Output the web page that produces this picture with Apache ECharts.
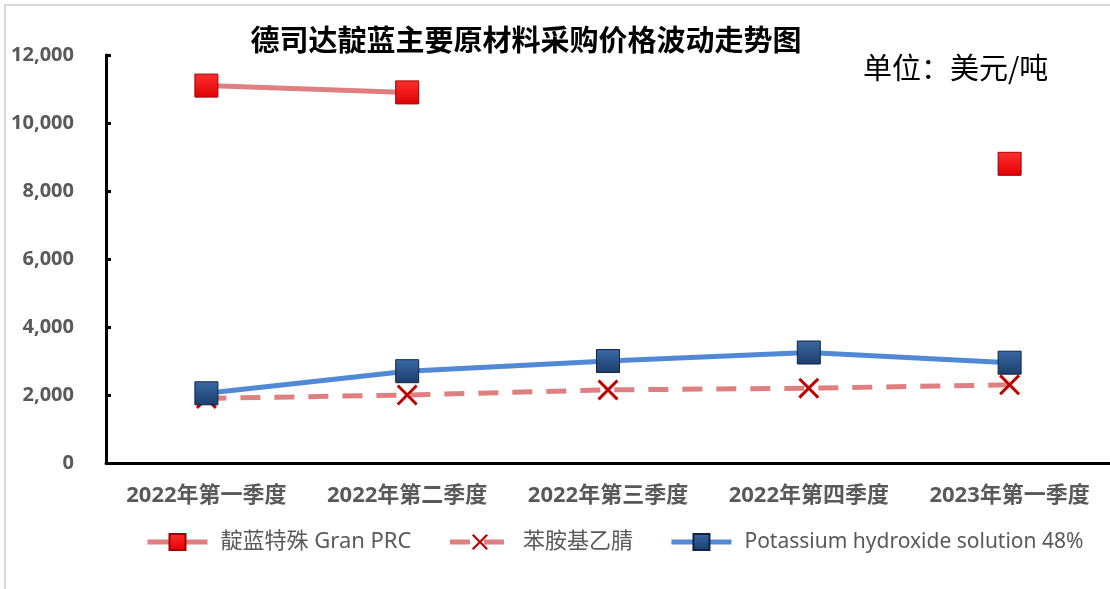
<!DOCTYPE html>
<html>
<head>
<meta charset="utf-8">
<script src="https://cdn.jsdelivr.net/npm/echarts@6/dist/echarts.min.js"></script>
<style>
html, body { margin: 0; padding: 0; background: #fff; }
#main { width: 1110px; height: 589px; }
</style>
</head>
<body>
<div id="main"></div>
<script>
var quarters = ['2022年第一季度', '2022年第二季度', '2022年第三季度', '2022年第四季度', '2023年第一季度'];
var granPrc = [11100, 10900, null, null, 8800];
var anilino = [1900, 2000, 2150, 2200, 2300];
var potassium = [2050, 2700, 3000, 3250, 2950];
var seriesNames = ['靛蓝特殊 Gran PRC', '苯胺基乙腈', 'Potassium hydroxide solution 48%'];

var xMark = 'path://M0,2 L2,0 L10,8 L18,0 L20,2 L12,10 L20,18 L18,20 L10,12 L2,20 L0,18 L8,10 Z';
var font = "'Noto Sans', 'Noto Sans CJK SC', sans-serif";

var myChart = echarts.init(document.getElementById('main'));
var option = {
    backgroundColor: '#fff',
    animation: false,
    textStyle: { fontFamily: font },
    title: [
        {
            text: '德司达靛蓝主要原材料采购价格波动走势图',
            left: 521, top: 20, textAlign: 'center',
            textStyle: { fontSize: 29, fontWeight: 'bold', color: '#000', fontFamily: "'Noto Sans CJK SC', sans-serif" }
        },
        {
            text: '单位：美元/吨',
            left: 858, top: 48,
            textStyle: { fontSize: 29, fontWeight: 'normal', color: '#000', fontFamily: "'Noto Sans CJK SC', sans-serif" }
        }
    ],
    graphic: [
        { type: 'rect', shape: { x: 5, y: 4, width: 1105, height: 2 }, style: { fill: '#d9d9d9' } },
        { type: 'rect', shape: { x: 4, y: 4, width: 2, height: 585 }, style: { fill: '#d9d9d9' } }
    ],
    legend: {
        left: 140, top: 526,
        itemWidth: 60, itemHeight: 20, itemGap: 36,
        lineStyle: { width: 5 },
        textStyle: { fontSize: 22, color: '#595959', fontFamily: font, padding: [0, 0, 0, 8] },
        data: [
            seriesNames[0],
            seriesNames[1],
            { name: seriesNames[2], textStyle: { fontSize: 21 } }
        ]
    },
    grid: { left: 106, top: 55, width: 1008, height: 408, containLabel: false },
    xAxis: {
        type: 'category',
        data: quarters,
        axisLine: { lineStyle: { color: '#000', width: 3 } },
        axisTick: { show: false },
        axisLabel: { interval: 0, margin: 22, fontSize: 22, fontWeight: 'bold', color: '#595959' }
    },
    yAxis: {
        type: 'value',
        min: 0, max: 12000, interval: 2000,
        splitLine: { show: false },
        axisLine: { show: true, lineStyle: { color: '#000', width: 3 } },
        axisTick: { show: true, inside: true, length: 5, lineStyle: { color: '#000', width: 3 } },
        axisLabel: {
            margin: 32, fontSize: 20, fontWeight: 'bold', color: '#595959',
            formatter: function (v) { return v.toLocaleString('en-US'); }
        }
    },
    series: [
        {
            name: seriesNames[0],
            type: 'line',
            data: granPrc,
            connectNulls: false,
            symbol: 'rect', symbolSize: 23,
            lineStyle: { color: '#e07f7f', width: 5 },
            itemStyle: {
                color: new echarts.graphic.LinearGradient(0, 0, 0, 1, [
                    { offset: 0, color: '#ff3030' }, { offset: 1, color: '#e00000' }
                ]),
                borderColor: '#a00000', borderWidth: 1
            }
        },
        {
            name: seriesNames[1],
            type: 'line',
            data: anilino,
            symbol: xMark, symbolSize: 21,
            lineStyle: { color: '#e07f7f', width: 5, type: [20, 14] },
            itemStyle: { color: '#c00000' }
        },
        {
            name: seriesNames[2],
            type: 'line',
            data: potassium,
            symbol: 'rect', symbolSize: 23,
            lineStyle: { color: '#5189d6', width: 5 },
            itemStyle: {
                color: new echarts.graphic.LinearGradient(0, 0, 0, 1, [
                    { offset: 0, color: '#3a69a6' }, { offset: 1, color: '#1c3d6b' }
                ]),
                borderColor: '#0f2540', borderWidth: 1
            }
        }
    ]
};
myChart.setOption(option);
</script>
</body>
</html>
